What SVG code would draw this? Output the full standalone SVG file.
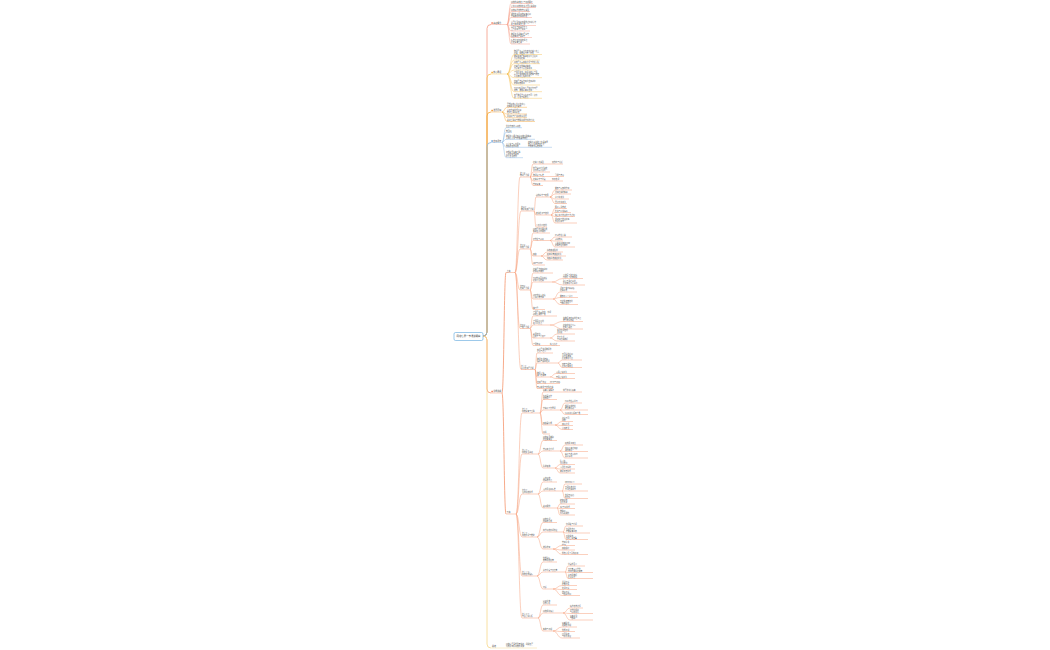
<svg xmlns="http://www.w3.org/2000/svg" width="1050" height="650" viewBox="0 0 1050 650">
<style>
.t{font-family:"Noto Sans CJK SC","Liberation Sans",sans-serif;font-size:1.8px;fill:#555}
.tl{font-family:"Noto Sans CJK SC","Liberation Sans",sans-serif;font-size:2px;fill:#444}
.r{font-family:"Noto Sans CJK SC","Liberation Sans",sans-serif;font-size:2.4px;fill:#333}
path{fill:none}
.a{stroke:#f59a84;stroke-width:.45}
.b{stroke:#f7c052;stroke-width:.45}
.c{stroke:#f5a83a;stroke-width:.45}
.d{stroke:#86b6e3;stroke-width:.45}
.e{stroke:#f5956d;stroke-width:.45}
.f{stroke:#f8d88a;stroke-width:.45}
.m{stroke-width:.8}
</style>
<rect width="1050" height="650" fill="#fff"/>
<g id="connectors">
<path class="a m" d="M483 336Q487 336 487 332V28.5Q487 24.5 491 24.5"/>
<path class="b m" d="M483 336Q487 336 487 332V78Q487 74 491 74"/>
<path class="c m" d="M483 336Q487 336 487 332V116Q487 112 491 112"/>
<path class="d m" d="M483 336Q487 336 487 332V146.5Q487 142.5 491 142.5"/>
<path class="e m" d="M483 336Q487 336 487 340V389Q487 393 491 393"/>
<path class="f m" d="M483 336Q487 336 487 340V644Q487 648 491 648"/>
<path class="a" d="M507 24.5C509 24.5 509 3.5 511 3.5"/>
<path class="a" d="M507 24.5C509 24.5 509 7.5 511 7.5"/>
<path class="a" d="M507 24.5C509 24.5 509 11.5 511 11.5"/>
<path class="a" d="M507 24.5C509 24.5 509 17.5 511 17.5"/>
<path class="a" d="M507 24.5C509 24.5 509 25.5 511 25.5"/>
<path class="a" d="M507 24.5C509 24.5 509 31 511 31"/>
<path class="a" d="M507 24.5C509 24.5 509 37.5 511 37.5"/>
<path class="a" d="M507 24.5C509 24.5 509 44 511 44"/>
<path class="b" d="M507 74C510.5 74 510.5 54.5 514 54.5"/>
<path class="b" d="M507 74C510.5 74 510.5 60 514 60"/>
<path class="b" d="M507 74C510.5 74 510.5 63.7 514 63.7"/>
<path class="b" d="M507 74C510.5 74 510.5 70 514 70"/>
<path class="b" d="M507 74C510.5 74 510.5 77.7 514 77.7"/>
<path class="b" d="M507 74C510.5 74 510.5 85 514 85"/>
<path class="b" d="M507 74C510.5 74 510.5 91.7 514 91.7"/>
<path class="b" d="M507 74C510.5 74 510.5 98.3 514 98.3"/>
<path class="c" d="M502 112C504.5 112 504.5 107.3 507 107.3"/>
<path class="c" d="M502 112C504.5 112 504.5 114 507 114"/>
<path class="c" d="M502 112C504.5 112 504.5 117.8 507 117.8"/>
<path class="c" d="M502 112C504.5 112 504.5 121.5 507 121.5"/>
<path class="d" d="M502 142.5C504 142.5 504 127.7 506 127.7"/>
<path class="d" d="M502 142.5C504 142.5 504 132.3 506 132.3"/>
<path class="d" d="M502 142.5C504 142.5 504 139.3 506 139.3"/>
<path class="d" d="M502 142.5C504 142.5 504 147.3 506 147.3"/>
<path class="d" d="M502 142.5C504 142.5 504 157.7 506 157.7"/>
<path class="d" d="M523 147.3H528"/>
<path class="e m" d="M502 393C504 393 504 272.5 506 272.5"/>
<path class="e m" d="M502 393C504 393 504 514 506 514"/>
<path class="e" d="M515 272.5C517.5 272.5 517.5 177 520 177"/>
<path class="e" d="M515 272.5C518 272.5 518 211 521 211"/>
<path class="e" d="M515 272.5C517.5 272.5 517.5 249 520 249"/>
<path class="e" d="M515 272.5C517.5 272.5 517.5 290 520 290"/>
<path class="e" d="M515 272.5C517.5 272.5 517.5 328.5 520 328.5"/>
<path class="e" d="M515 272.5C518 272.5 518 369.5 521 369.5"/>
<path class="e" d="M530 177C531.5 177 531.5 164 533 164"/>
<path class="e" d="M530 177C531.5 177 531.5 172 533 172"/>
<path class="e" d="M530 177C531.5 177 531.5 176.5 533 176.5"/>
<path class="e" d="M530 177C531.5 177 531.5 181 533 181"/>
<path class="e" d="M530 177C531.5 177 531.5 185.5 533 185.5"/>
<path class="e" d="M548 164H552M550 176.5H555M550 181H552"/>
<path class="e" d="M534 211C535 211 535 197 536 197"/>
<path class="e" d="M534 211C535 211 535 215 536 215"/>
<path class="e" d="M534 211C535 211 535 227 536 227"/>
<path class="e" d="M550 197C552.5 197 552.5 190 555 190"/>
<path class="e" d="M550 197C552.5 197 552.5 194 555 194"/>
<path class="e" d="M550 197C552.5 197 552.5 199 555 199"/>
<path class="e" d="M550 197C552.5 197 552.5 203.5 555 203.5"/>
<path class="e" d="M551 215C553 215 553 208.5 555 208.5"/>
<path class="e" d="M551 215C553 215 553 212.5 555 212.5"/>
<path class="e" d="M551 215C553 215 553 216.5 555 216.5"/>
<path class="e" d="M551 215C553 215 553 223 555 223"/>
<path class="e" d="M530 249C531.5 249 531.5 233 533 233"/>
<path class="e" d="M530 249C531.5 249 531.5 240.5 533 240.5"/>
<path class="e" d="M530 249C531.5 249 531.5 256 533 256"/>
<path class="e" d="M530 249C531.5 249 531.5 265 533 265"/>
<path class="e" d="M550 240.5C552.5 240.5 552.5 237 555 237"/>
<path class="e" d="M550 240.5C552.5 240.5 552.5 241 555 241"/>
<path class="e" d="M550 240.5C552.5 240.5 552.5 247 555 247"/>
<path class="e" d="M541 256C544 256 544 252 547 252"/>
<path class="e" d="M541 256C544 256 544 256 547 256"/>
<path class="e" d="M541 256C544 256 544 260 547 260"/>
<path class="e" d="M530 290C531.5 290 531.5 273 533 273"/>
<path class="e" d="M530 290C531.5 290 531.5 282 533 282"/>
<path class="e" d="M530 290C531.5 290 531.5 299 533 299"/>
<path class="e" d="M530 290C531.5 290 531.5 309.5 533 309.5"/>
<path class="e" d="M552 282C557.5 282 557.5 278.5 563 278.5"/>
<path class="e" d="M552 282C557.5 282 557.5 285 563 285"/>
<path class="e" d="M553 299C556.5 299 556.5 292 560 292"/>
<path class="e" d="M553 299C556.5 299 556.5 297.5 560 297.5"/>
<path class="e" d="M553 299C556.5 299 556.5 304.5 560 304.5"/>
<path class="e" d="M530 328.5C531.5 328.5 531.5 316 533 316"/>
<path class="e" d="M530 328.5C531.5 328.5 531.5 325 533 325"/>
<path class="e" d="M530 328.5C531.5 328.5 531.5 338 533 338"/>
<path class="e" d="M530 328.5C531.5 328.5 531.5 345.5 533 345.5"/>
<path class="e" d="M550 325C556.5 325 556.5 321.5 563 321.5"/>
<path class="e" d="M550 325C556.5 325 556.5 329 563 329"/>
<path class="e" d="M550 338C553.5 338 553.5 334 557 334"/>
<path class="e" d="M550 338C553.5 338 553.5 341 557 341"/>
<path class="e" d="M547 345.5H550"/>
<path class="e" d="M535 369.5C536 369.5 536 353 537 353"/>
<path class="e" d="M535 369.5C536 369.5 536 363 537 363"/>
<path class="e" d="M535 369.5C536 369.5 536 377 537 377"/>
<path class="e" d="M535 369.5C536 369.5 536 383.5 537 383.5"/>
<path class="e" d="M535 369.5C536 369.5 536 388.5 537 388.5"/>
<path class="e" d="M558 363C560 363 560 360 562 360"/>
<path class="e" d="M558 363C560 363 560 367.5 562 367.5"/>
<path class="e" d="M550 377C553 377 553 373.5 556 373.5"/>
<path class="e" d="M550 377C553 377 553 378.5 556 378.5"/>
<path class="e" d="M547 383.5H550"/>
<path class="e" d="M516 514C519 514 519 413 522 413"/>
<path class="e" d="M516 514C519 514 519 454 522 454"/>
<path class="e" d="M516 514C519 514 519 494 522 494"/>
<path class="e" d="M516 514C519 514 519 537 522 537"/>
<path class="e" d="M516 514C519 514 519 576 522 576"/>
<path class="e" d="M516 514C519 514 519 618 522 618"/>
<path class="e" d="M540 413C541.5 413 541.5 392 543 392"/>
<path class="e" d="M540 413C541.5 413 541.5 399.5 543 399.5"/>
<path class="e" d="M540 413C541.5 413 541.5 410 543 410"/>
<path class="e" d="M540 413C541.5 413 541.5 425 543 425"/>
<path class="e" d="M540 413C541.5 413 541.5 434 543 434"/>
<path class="e" d="M560 392H563"/>
<path class="e" d="M560 410C562.5 410 562.5 403 565 403"/>
<path class="e" d="M560 410C562.5 410 562.5 410 565 410"/>
<path class="e" d="M560 410C562.5 410 562.5 414.5 565 414.5"/>
<path class="e" d="M555 425C558.5 425 558.5 421.5 562 421.5"/>
<path class="e" d="M555 425C558.5 425 558.5 425.5 562 425.5"/>
<path class="e" d="M555 425C558.5 425 558.5 429.5 562 429.5"/>
<path class="e" d="M538 454C540.5 454 540.5 440.5 543 440.5"/>
<path class="e" d="M538 454C540.5 454 540.5 451 543 451"/>
<path class="e" d="M538 454C540.5 454 540.5 468 543 468"/>
<path class="e" d="M560 451C562.5 451 562.5 445 565 445"/>
<path class="e" d="M560 451C562.5 451 562.5 451.5 565 451.5"/>
<path class="e" d="M560 451C562.5 451 562.5 458 565 458"/>
<path class="e" d="M555 468C557.5 468 557.5 464.5 560 464.5"/>
<path class="e" d="M555 468C557.5 468 557.5 469 560 469"/>
<path class="e" d="M555 468C557.5 468 557.5 473 560 473"/>
<path class="e" d="M538 494C540.5 494 540.5 482 543 482"/>
<path class="e" d="M538 494C540.5 494 540.5 491 543 491"/>
<path class="e" d="M538 494C540.5 494 540.5 508 543 508"/>
<path class="e" d="M562 491C563.5 491 563.5 484 565 484"/>
<path class="e" d="M562 491C563.5 491 563.5 491 565 491"/>
<path class="e" d="M562 491C563.5 491 563.5 498.5 565 498.5"/>
<path class="e" d="M557 508C558.5 508 558.5 504 560 504"/>
<path class="e" d="M557 508C558.5 508 558.5 508.5 560 508.5"/>
<path class="e" d="M557 508C558.5 508 558.5 515 560 515"/>
<path class="e" d="M537 537C540 537 540 522.5 543 522.5"/>
<path class="e" d="M537 537C540 537 540 532 543 532"/>
<path class="e" d="M537 537C540 537 540 549 543 549"/>
<path class="e" d="M563 532C564.5 532 564.5 526 566 526"/>
<path class="e" d="M563 532C564.5 532 564.5 533 566 533"/>
<path class="e" d="M563 532C564.5 532 564.5 539.5 566 539.5"/>
<path class="e" d="M553 549C557.5 549 557.5 545.5 562 545.5"/>
<path class="e" d="M553 549C557.5 549 557.5 550 562 550"/>
<path class="e" d="M553 549C557.5 549 557.5 554.5 562 554.5"/>
<path class="e" d="M537 576C540 576 540 562 543 562"/>
<path class="e" d="M537 576C540 576 540 572 543 572"/>
<path class="e" d="M537 576C540 576 540 589 543 589"/>
<path class="e" d="M565 572C566.5 572 566.5 566 568 566"/>
<path class="e" d="M565 572C566.5 572 566.5 572.5 568 572.5"/>
<path class="e" d="M565 572C566.5 572 566.5 578.5 568 578.5"/>
<path class="e" d="M553 589C557.5 589 557.5 585.5 562 585.5"/>
<path class="e" d="M553 589C557.5 589 557.5 589.5 562 589.5"/>
<path class="e" d="M553 589C557.5 589 557.5 595.5 562 595.5"/>
<path class="e" d="M538 618C540.5 618 540.5 605 543 605"/>
<path class="e" d="M538 618C540.5 618 540.5 613 543 613"/>
<path class="e" d="M538 618C540.5 618 540.5 631 543 631"/>
<path class="e" d="M563 613C566.5 613 566.5 608 570 608"/>
<path class="e" d="M563 613C566.5 613 566.5 613.5 570 613.5"/>
<path class="e" d="M563 613C566.5 613 566.5 620 570 620"/>
<path class="e" d="M553 631C557.5 631 557.5 627 562 627"/>
<path class="e" d="M553 631C557.5 631 557.5 631.5 562 631.5"/>
<path class="e" d="M553 631C557.5 631 557.5 638 562 638"/>
<path class="f" d="M503 648H506"/>
</g>
<g id="root"><rect x="454" y="332.5" width="29" height="8" rx="1.5" fill="#fff" stroke="#5aa4dc" stroke-width="0.6"/><text class="r" x="468.5" y="337.4" text-anchor="middle">网络七层一节课讲明白</text></g>
<g id="A"><rect x="491.4" y="22.3" width="1.4" height="1.4" rx="0.3" fill="#f26d50"/><text class="tl" x="493.3" y="23.9">基础概念</text><path class="a" d="M491 24.5h16"/></g>
<g id="A1"><text class="t" x="511" y="2.9">网络的基本定义与组成要素</text><path class="a" d="M511 3.5h22"/></g>
<g id="A2"><text class="t" x="511" y="6.9">计算机网络按覆盖范围分类说明</text><path class="a" d="M511 7.5h25"/></g>
<g id="A3"><text class="t" x="511" y="10.9">网络拓扑结构常见类型</text><path class="a" d="M511 11.5h19"/></g>
<g id="A4"><text class="t" x="511" y="14.8">通信协议是网络设备之间<tspan x="511" dy="2.1">交换数据的规则约定</tspan></text><path class="a" d="M511 17.5h21"/></g>
<g id="A5"><text class="t" x="511" y="22.8">分层模型将复杂通信过程划分为<tspan x="511" dy="2.1">若干相对独立层次</tspan></text><path class="a" d="M511 25.5h25"/></g>
<g id="A6"><text class="t" x="511" y="28.3">每层只与相邻层交互<tspan x="511" dy="2.1">上层使用下层服务</tspan></text><path class="a" d="M511 31h19"/></g>
<g id="A7"><text class="t" x="511" y="34.8">数据在发送端逐层封装<tspan x="511" dy="2.1">接收端逐层解封装</tspan></text><path class="a" d="M511 37.5h21"/></g>
<g id="A8"><text class="t" x="511" y="41.3">标准化组织制定规范<tspan x="511" dy="2.1">保证设备互通</tspan></text><path class="a" d="M511 44h19"/></g>
<g id="B"><rect x="491.4" y="71.8" width="1.4" height="1.4" rx="0.3" fill="#f5a623"/><text class="tl" x="493.3" y="73.4">核心原理</text><path class="b" d="M491 74h16"/></g>
<g id="B1"><text class="t" x="514" y="51.8">物理层负责比特流在传输介质上<tspan x="514" dy="2.1">传输，规定接口电气特性</tspan></text><path class="b" d="M514 54.5h28"/></g>
<g id="B2"><text class="t" x="514" y="57.3">数据链路层实现相邻节点之间<tspan x="514" dy="2.1">可靠的帧传输</tspan></text><path class="b" d="M514 60h26"/></g>
<g id="B3"><text class="t" x="514" y="63.1">网络层负责路由选择与地址分配</text><path class="b" d="M514 63.7h26"/></g>
<g id="B4"><text class="t" x="514" y="67.3">传输层提供端到端的<tspan x="514" dy="2.1">可靠或不可靠传输服务</tspan></text><path class="b" d="M514 70h22"/></g>
<g id="B5"><text class="t" x="514" y="72.9">会话层建立、管理和终止会话<tspan x="514" dy="2.1">表示层处理数据格式转换与加密</tspan><tspan x="514" dy="2.1">以及数据压缩等功能</tspan></text><path class="b" d="M514 77.7h28"/></g>
<g id="B6"><text class="t" x="514" y="82.3">应用层直接为用户应用进程<tspan x="514" dy="2.1">提供网络服务</tspan></text><path class="b" d="M514 85h26"/></g>
<g id="B7"><text class="t" x="514" y="89">TCP/IP模型将七层简化为四层<tspan x="514" dy="2.1">结构，更贴近实际应用</tspan></text><path class="b" d="M514 91.7h28"/></g>
<g id="B8"><text class="t" x="514" y="95.6">各层数据单元名称不同：比特、<tspan x="514" dy="2.1">帧、分组与报文段</tspan></text><path class="b" d="M514 98.3h28"/></g>
<g id="C"><rect x="491.4" y="109.8" width="1.4" height="1.4" rx="0.3" fill="#f08c1a"/><text class="tl" x="493.3" y="111.4">发展历程</text><path class="c" d="M491 112h11"/></g>
<g id="C1"><text class="t" x="507" y="104.6">早期网络以主机为中心<tspan x="507" dy="2.1">终端共享主机资源</tspan></text><path class="c" d="M507 107.3h20"/></g>
<g id="C2"><text class="t" x="507" y="111.3">分组交换技术出现<tspan x="507" dy="2.1">推动互联网诞生</tspan></text><path class="c" d="M507 114h20"/></g>
<g id="C3"><text class="t" x="507" y="117.2">局域网与广域网快速发展</text><path class="c" d="M507 117.8h20"/></g>
<g id="C4"><text class="t" x="507" y="120.9">移动互联网与物联网成为新的方向</text><path class="c" d="M507 121.5h28"/></g>
<g id="D"><rect x="491.4" y="140.3" width="1.4" height="1.4" rx="0.3" fill="#4a90d9"/><text class="tl" x="493.3" y="141.9">应用场景</text><path class="d" d="M491 142.5h11"/></g>
<g id="D1"><text class="t" x="506" y="127.1">企业内部办公网络</text><path class="d" d="M506 127.7h16"/></g>
<g id="D2"><text class="t" x="506" y="131.7">校园网</text><path class="d" d="M506 132.3h6"/></g>
<g id="D3"><text class="t" x="506" y="136.6">数据中心通过高速网络互联实现<tspan x="506" dy="2.1">大规模计算与存储资源调度</tspan></text><path class="d" d="M506 139.3h29"/></g>
<g id="D4"><text class="t" x="506" y="144.6">云计算与远程服务<tspan x="506" dy="2.1">依赖稳定的网络</tspan></text><path class="d" d="M506 147.3h17"/></g>
<g id="D4a"><text class="t" x="528" y="142.5">虚拟化平台统一管理资源<tspan x="528" dy="2.1">按需分配并弹性扩展</tspan><tspan x="528" dy="2.1">有效降低运维成本</tspan></text><path class="d" d="M528 147.3h24"/></g>
<g id="D5"><text class="t" x="506" y="152.9">智能家居设备互联<tspan x="506" dy="2.1">远程控制与监测</tspan><tspan x="506" dy="2.1">提升生活便利</tspan></text><path class="d" d="M506 157.7h17"/></g>
<g id="E"><rect x="491.4" y="390.8" width="1.4" height="1.4" rx="0.3" fill="#f0704a"/><text class="tl" x="493.3" y="392.4">详细讲解</text><path class="e" d="M491 393h11"/></g>
<g id="E1"><text class="tl" x="506.5" y="271.9">上篇</text><path class="e" d="M506 272.5h9"/></g>
<g id="E2"><text class="tl" x="506.5" y="513.4">下篇</text><path class="e" d="M506 514h10"/></g>
<g id="E1a"><text class="t" x="520" y="174.3">第一节<tspan x="520" dy="2.1">物理层详解</tspan></text><path class="e" d="M520 177h10"/></g>
<g id="E1a1"><text class="t" x="533" y="163.4">传输介质类型</text><path class="e" d="M533 164h15"/></g>
<g id="E1a1s"><text class="t" x="552" y="163.4">双绞线与光纤</text><path class="e" d="M552 164h11"/></g>
<g id="E1a2"><text class="t" x="533" y="169.3">信号编码方式决定<tspan x="533" dy="2.1">比特的表示形式</tspan></text><path class="e" d="M533 172h17"/></g>
<g id="E1a3"><text class="t" x="533" y="175.9">物理接口标准</text><path class="e" d="M533 176.5h17"/></g>
<g id="E1a3s"><text class="t" x="555" y="175.9">引脚与电平</text><path class="e" d="M555 176.5h9"/></g>
<g id="E1a4"><text class="t" x="533" y="180.4">传输速率与带宽</text><path class="e" d="M533 181h17"/></g>
<g id="E1a4s"><text class="t" x="552" y="180.4">香农定理</text><path class="e" d="M552 181h11"/></g>
<g id="E1a5"><text class="t" x="533" y="184.9">常用设备</text><path class="e" d="M533 185.5h10"/></g>
<g id="E1b"><text class="t" x="521" y="208.3">第二节<tspan x="521" dy="2.1">数据链路层详解</tspan></text><path class="e" d="M521 211h13"/></g>
<g id="E1b1"><text class="t" x="536" y="196.4">帧的封装与定界</text><path class="e" d="M536 197h14"/></g>
<g id="E1b1a"><text class="t" x="555" y="189.4">首部与尾部的作用</text><path class="e" d="M555 190h17"/></g>
<g id="E1b1b"><text class="t" x="555" y="193.4">透明传输的实现</text><path class="e" d="M555 194h16"/></g>
<g id="E1b1c"><text class="t" x="555" y="198.4">字节填充法</text><path class="e" d="M555 199h14"/></g>
<g id="E1b1d"><text class="t" x="555" y="202.9">零比特填充法</text><path class="e" d="M555 203.5h12"/></g>
<g id="E1b2"><text class="t" x="536" y="214.4">差错检测与控制</text><path class="e" d="M536 215h15"/></g>
<g id="E1b2a"><text class="t" x="555" y="207.9">循环冗余校验</text><path class="e" d="M555 208.5h12"/></g>
<g id="E1b2b"><text class="t" x="555" y="211.9">检错与纠错编码</text><path class="e" d="M555 212.5h16"/></g>
<g id="E1b2c"><text class="t" x="555" y="215.9">停止等待协议的工作过程</text><path class="e" d="M555 216.5h20"/></g>
<g id="E1b2d"><text class="t" x="555" y="220.3">滑动窗口协议提高<tspan x="555" dy="2.1">信道利用率</tspan></text><path class="e" d="M555 223h22"/></g>
<g id="E1b3"><text class="t" x="536" y="226.4">介质访问控制</text><path class="e" d="M536 227h11"/></g>
<g id="E1c"><text class="t" x="520" y="246.3">第三节<tspan x="520" dy="2.1">网络层详解</tspan></text><path class="e" d="M520 249h10"/></g>
<g id="E1c1"><text class="t" x="533" y="230.3">网络层的主要功能<tspan x="533" dy="2.1">实现主机间通信</tspan></text><path class="e" d="M533 233h17"/></g>
<g id="E1c2"><text class="t" x="533" y="239.9">IP地址与子网</text><path class="e" d="M533 240.5h17"/></g>
<g id="E1c2a"><text class="t" x="555" y="236.4">IPv4地址分类</text><path class="e" d="M555 237h17"/></g>
<g id="E1c2b"><text class="t" x="555" y="240.4">子网掩码</text><path class="e" d="M555 241h8"/></g>
<g id="E1c2c"><text class="t" x="555" y="244.3">无类域间路由CIDR<tspan x="555" dy="2.1">提高地址利用率</tspan></text><path class="e" d="M555 247h20"/></g>
<g id="E1c3"><text class="t" x="533" y="255.4">路由</text><path class="e" d="M533 256h8"/></g>
<g id="E1c3a"><text class="t" x="547" y="251.4">静态路由配置</text><path class="e" d="M547 252h16"/></g>
<g id="E1c3b"><text class="t" x="547" y="255.4">距离向量路由算法</text><path class="e" d="M547 256h19"/></g>
<g id="E1c3c"><text class="t" x="547" y="259.4">链路状态路由算法</text><path class="e" d="M547 260h16"/></g>
<g id="E1c4"><text class="t" x="533" y="264.4">ARP与ICMP</text><path class="e" d="M533 265h12"/></g>
<g id="E1d"><text class="t" x="520" y="287.3">第四节<tspan x="520" dy="2.1">传输层详解</tspan></text><path class="e" d="M520 290h10"/></g>
<g id="E1d1"><text class="t" x="533" y="270.3">传输层为应用进程<tspan x="533" dy="2.1">提供逻辑通信</tspan></text><path class="e" d="M533 273h20"/></g>
<g id="E1d2"><text class="t" x="533" y="279.3">TCP协议面向连接<tspan x="533" dy="2.1">提供可靠传输</tspan></text><path class="e" d="M533 282h19"/></g>
<g id="E1d2a"><text class="t" x="563" y="275.8">三次握手建立连接<tspan x="563" dy="2.1">四次挥手释放连接</tspan></text><path class="e" d="M563 278.5h20"/></g>
<g id="E1d2b"><text class="t" x="563" y="282.3">确认与重传机制<tspan x="563" dy="2.1">保证数据可靠到达</tspan></text><path class="e" d="M563 285h22"/></g>
<g id="E1d3"><text class="t" x="533" y="296.3">UDP协议无连接<tspan x="533" dy="2.1">开销小效率高</tspan></text><path class="e" d="M533 299h20"/></g>
<g id="E1d3a"><text class="t" x="560" y="289.3">适用于实时音视频<tspan x="560" dy="2.1">传输场景</tspan></text><path class="e" d="M560 292h17"/></g>
<g id="E1d3b"><text class="t" x="560" y="296.9">首部仅八个字节</text><path class="e" d="M560 297.5h18"/></g>
<g id="E1d3c"><text class="t" x="560" y="301.8">不提供流量控制<tspan x="560" dy="2.1">与拥塞控制</tspan></text><path class="e" d="M560 304.5h18"/></g>
<g id="E1d4"><text class="t" x="533" y="308.9">端口号</text><path class="e" d="M533 309.5h12"/></g>
<g id="E1e"><text class="t" x="520" y="325.8">第五节<tspan x="520" dy="2.1">会话层详解</tspan></text><path class="e" d="M520 328.5h10"/></g>
<g id="E1e1"><text class="t" x="533" y="313.3">会话层负责建立、管理<tspan x="533" dy="2.1">和终止通信会话</tspan></text><path class="e" d="M533 316h24"/></g>
<g id="E1e2"><text class="t" x="533" y="322.3">会话同步机制<tspan x="533" dy="2.1">插入同步点</tspan></text><path class="e" d="M533 325h17"/></g>
<g id="E1e2a"><text class="t" x="563" y="318.8">在数据流中设置检查点<tspan x="563" dy="2.1">便于故障恢复</tspan></text><path class="e" d="M563 321.5h20"/></g>
<g id="E1e2b"><text class="t" x="563" y="326.3">传输中断后可从<tspan x="563" dy="2.1">检查点继续</tspan></text><path class="e" d="M563 329h20"/></g>
<g id="E1e3"><text class="t" x="533" y="335.3">对话控制<tspan x="533" dy="2.1">全双工与半双工</tspan></text><path class="e" d="M533 338h17"/></g>
<g id="E1e3a"><text class="t" x="557" y="331.3">令牌管理控制<tspan x="557" dy="2.1">发送权</tspan></text><path class="e" d="M557 334h18"/></g>
<g id="E1e3b"><text class="t" x="557" y="338.3">单工方式<tspan x="557" dy="2.1">单向传输数据</tspan></text><path class="e" d="M557 341h18"/></g>
<g id="E1e4"><text class="t" x="533" y="344.9">会话恢复</text><path class="e" d="M533 345.5h14"/></g>
<g id="E1e4s"><text class="t" x="550" y="344.9">断点续传</text><path class="e" d="M550 345.5h10"/></g>
<g id="E1f"><text class="t" x="521" y="366.8">第六节<tspan x="521" dy="2.1">表示应用层详解</tspan></text><path class="e" d="M521 369.5h14"/></g>
<g id="E1f1"><text class="t" x="537" y="350.3">表示层处理数据的<tspan x="537" dy="2.1">语法与语义</tspan></text><path class="e" d="M537 353h16"/></g>
<g id="E1f2"><text class="t" x="537" y="360.3">数据格式转换<tspan x="537" dy="2.1">编码与解码处理</tspan></text><path class="e" d="M537 363h21"/></g>
<g id="E1f2a"><text class="t" x="562" y="355.2">不同系统之间<tspan x="562" dy="2.1">字符集转换</tspan><tspan x="562" dy="2.1">保证数据可读</tspan></text><path class="e" d="M562 360h20"/></g>
<g id="E1f2b"><text class="t" x="562" y="364.8">加密与解密<tspan x="562" dy="2.1">保障传输安全</tspan></text><path class="e" d="M562 367.5h20"/></g>
<g id="E1f3"><text class="t" x="537" y="374.3">数据压缩<tspan x="537" dy="2.1">减少传输量</tspan></text><path class="e" d="M537 377h13"/></g>
<g id="E1f3a"><text class="t" x="556" y="372.9">无损压缩算法</text><path class="e" d="M556 373.5h19"/></g>
<g id="E1f3b"><text class="t" x="556" y="377.9">有损压缩算法</text><path class="e" d="M556 378.5h19"/></g>
<g id="E1f4"><text class="t" x="537" y="382.9">应用层协议</text><path class="e" d="M537 383.5h10"/></g>
<g id="E1f4s"><text class="t" x="550" y="382.9">HTTP与DNS</text><path class="e" d="M550 383.5h10"/></g>
<g id="E1f5"><text class="t" x="537" y="387.9">电子邮件与文件传输</text><path class="e" d="M537 388.5h16"/></g>
<g id="E2a"><text class="t" x="522" y="410.3">第七节<tspan x="522" dy="2.1">网络设备与互联</tspan></text><path class="e" d="M522 413h18"/></g>
<g id="E2a1"><text class="t" x="543" y="391.4">设备分类概述</text><path class="e" d="M543 392h17"/></g>
<g id="E2a1s"><text class="t" x="563" y="391.4">按层次划分设备</text><path class="e" d="M563 392h19"/></g>
<g id="E2a2"><text class="t" x="543" y="396.8">集线器工作<tspan x="543" dy="2.1">在物理层</tspan></text><path class="e" d="M543 399.5h14"/></g>
<g id="E2a3"><text class="t" x="543" y="409.4">交换机工作原理</text><path class="e" d="M543 410h17"/></g>
<g id="E2a3a"><text class="t" x="565" y="402.4">MAC地址表学习</text><path class="e" d="M565 403h17"/></g>
<g id="E2a3b"><text class="t" x="565" y="407.3">根据目的地址<tspan x="565" dy="2.1">转发数据帧</tspan></text><path class="e" d="M565 410h23"/></g>
<g id="E2a3c"><text class="t" x="565" y="413.9">VLAN划分隔离广播</text><path class="e" d="M565 414.5h23"/></g>
<g id="E2a4"><text class="t" x="543" y="424.4">路由器功能</text><path class="e" d="M543 425h12"/></g>
<g id="E2a4a"><text class="t" x="562" y="418.8">连接不同<tspan x="562" dy="2.1">网络</tspan></text><path class="e" d="M562 421.5h11"/></g>
<g id="E2a4b"><text class="t" x="562" y="424.9">路径选择</text><path class="e" d="M562 425.5h11"/></g>
<g id="E2a4c"><text class="t" x="562" y="428.9">分组转发</text><path class="e" d="M562 429.5h11"/></g>
<g id="E2a5"><text class="t" x="543" y="433.4">网关</text><path class="e" d="M543 434h7"/></g>
<g id="E2b"><text class="t" x="522" y="451.3">第八节<tspan x="522" dy="2.1">网络安全基础</tspan></text><path class="e" d="M522 454h16"/></g>
<g id="E2b1"><text class="t" x="543" y="437.8">网络安全威胁<tspan x="543" dy="2.1">的主要类型</tspan></text><path class="e" d="M543 440.5h14"/></g>
<g id="E2b2"><text class="t" x="543" y="450.4">常见攻击方式</text><path class="e" d="M543 451h17"/></g>
<g id="E2b2a"><text class="t" x="565" y="444.4">拒绝服务攻击</text><path class="e" d="M565 445h18"/></g>
<g id="E2b2b"><text class="t" x="565" y="448.8">中间人攻击窃取<tspan x="565" dy="2.1">通信数据</tspan></text><path class="e" d="M565 451.5h23"/></g>
<g id="E2b2c"><text class="t" x="565" y="455.3">病毒与木马程序<tspan x="565" dy="2.1">破坏系统</tspan></text><path class="e" d="M565 458h23"/></g>
<g id="E2b3"><text class="t" x="543" y="467.4">防护措施</text><path class="e" d="M543 468h12"/></g>
<g id="E2b3a"><text class="t" x="560" y="461.8">防火墙<tspan x="560" dy="2.1">访问控制</tspan></text><path class="e" d="M560 464.5h15"/></g>
<g id="E2b3b"><text class="t" x="560" y="468.4">入侵检测系统</text><path class="e" d="M560 469h15"/></g>
<g id="E2b3c"><text class="t" x="560" y="472.4">数据加密技术</text><path class="e" d="M560 473h15"/></g>
<g id="E2c"><text class="t" x="522" y="491.3">第九节<tspan x="522" dy="2.1">无线网络技术</tspan></text><path class="e" d="M522 494h16"/></g>
<g id="E2c1"><text class="t" x="543" y="479.3">无线网络<tspan x="543" dy="2.1">的基本特点</tspan></text><path class="e" d="M543 482h14"/></g>
<g id="E2c2"><text class="t" x="543" y="490.4">无线局域网标准</text><path class="e" d="M543 491h19"/></g>
<g id="E2c2a"><text class="t" x="565" y="483.4">IEEE 802.11</text><path class="e" d="M565 484h17"/></g>
<g id="E2c2b"><text class="t" x="565" y="488.3">不同版本支持<tspan x="565" dy="2.1">不同传输速率</tspan></text><path class="e" d="M565 491h23"/></g>
<g id="E2c2c"><text class="t" x="565" y="495.8">信道与频段<tspan x="565" dy="2.1">的选择</tspan></text><path class="e" d="M565 498.5h23"/></g>
<g id="E2c3"><text class="t" x="543" y="507.4">移动通信</text><path class="e" d="M543 508h14"/></g>
<g id="E2c3a"><text class="t" x="560" y="501.3">蜂窝网络<tspan x="560" dy="2.1">发展演进</tspan></text><path class="e" d="M560 504h15"/></g>
<g id="E2c3b"><text class="t" x="560" y="507.9">4G与5G技术</text><path class="e" d="M560 508.5h15"/></g>
<g id="E2c3c"><text class="t" x="560" y="512.3">物联网<tspan x="560" dy="2.1">低功耗通信</tspan></text><path class="e" d="M560 515h15"/></g>
<g id="E2d"><text class="t" x="522" y="534.3">第十节<tspan x="522" dy="2.1">网络管理与维护</tspan></text><path class="e" d="M522 537h15"/></g>
<g id="E2d1"><text class="t" x="543" y="519.8">网络管理<tspan x="543" dy="2.1">的基本功能</tspan></text><path class="e" d="M543 522.5h14"/></g>
<g id="E2d2"><text class="t" x="543" y="531.4">简单网络管理协议</text><path class="e" d="M543 532h20"/></g>
<g id="E2d2a"><text class="t" x="566" y="525.4">管理站与代理</text><path class="e" d="M566 526h17"/></g>
<g id="E2d2b"><text class="t" x="566" y="530.3">管理信息库<tspan x="566" dy="2.1">存储设备状态</tspan></text><path class="e" d="M566 533h24"/></g>
<g id="E2d2c"><text class="t" x="566" y="536.8">陷阱消息<tspan x="566" dy="2.1">主动上报告警</tspan></text><path class="e" d="M566 539.5h22"/></g>
<g id="E2d3"><text class="t" x="543" y="548.4">故障排查</text><path class="e" d="M543 549h10"/></g>
<g id="E2d3a"><text class="t" x="562" y="542.8">常用命令<tspan x="562" dy="2.1">ping</tspan></text><path class="e" d="M562 545.5h13"/></g>
<g id="E2d3b"><text class="t" x="562" y="549.4">路由跟踪</text><path class="e" d="M562 550h13"/></g>
<g id="E2d3c"><text class="t" x="562" y="553.9">抓包分析工具的使用</text><path class="e" d="M562 554.5h26"/></g>
<g id="E2e"><text class="t" x="522" y="573.3">第十一节<tspan x="522" dy="2.1">网络性能指标</tspan></text><path class="e" d="M522 576h15"/></g>
<g id="E2e1"><text class="t" x="543" y="559.3">性能指标<tspan x="543" dy="2.1">衡量网络质量</tspan></text><path class="e" d="M543 562h14"/></g>
<g id="E2e2"><text class="t" x="543" y="571.4">速率带宽与吞吐量</text><path class="e" d="M543 572h22"/></g>
<g id="E2e2a"><text class="t" x="568" y="565.4">带宽的含义</text><path class="e" d="M568 566h17"/></g>
<g id="E2e2b"><text class="t" x="568" y="569.8">吞吐量表示单位<tspan x="568" dy="2.1">时间内实际传输量</tspan></text><path class="e" d="M568 572.5h25"/></g>
<g id="E2e2c"><text class="t" x="568" y="575.8">速率即数据<tspan x="568" dy="2.1">传送速度</tspan></text><path class="e" d="M568 578.5h25"/></g>
<g id="E2e3"><text class="t" x="543" y="588.4">时延</text><path class="e" d="M543 589h10"/></g>
<g id="E2e3a"><text class="t" x="562" y="582.8">发送时延<tspan x="562" dy="2.1">传播时延</tspan></text><path class="e" d="M562 585.5h15"/></g>
<g id="E2e3b"><text class="t" x="562" y="588.9">处理时延</text><path class="e" d="M562 589.5h15"/></g>
<g id="E2e3c"><text class="t" x="562" y="592.8">排队时延<tspan x="562" dy="2.1">与往返时间</tspan></text><path class="e" d="M562 595.5h18"/></g>
<g id="E2f"><text class="t" x="522" y="615.3">第十二节<tspan x="522" dy="2.1">综合案例分析</tspan></text><path class="e" d="M522 618h16"/></g>
<g id="E2f1"><text class="t" x="543" y="602.3">案例背景<tspan x="543" dy="2.1">需求分析</tspan></text><path class="e" d="M543 605h14"/></g>
<g id="E2f2"><text class="t" x="543" y="612.4">网络规划设计</text><path class="e" d="M543 613h20"/></g>
<g id="E2f2a"><text class="t" x="570" y="607.4">拓扑结构选择</text><path class="e" d="M570 608h13"/></g>
<g id="E2f2b"><text class="t" x="570" y="610.8">IP地址规划<tspan x="570" dy="2.1">与子网划分</tspan></text><path class="e" d="M570 613.5h23"/></g>
<g id="E2f2c"><text class="t" x="570" y="617.3">设备选型<tspan x="570" dy="2.1">与部署</tspan></text><path class="e" d="M570 620h23"/></g>
<g id="E2f3"><text class="t" x="543" y="630.4">实施与测试</text><path class="e" d="M543 631h10"/></g>
<g id="E2f3a"><text class="t" x="562" y="624.3">设备配置<tspan x="562" dy="2.1">连通性测试</tspan></text><path class="e" d="M562 627h15"/></g>
<g id="E2f3b"><text class="t" x="562" y="630.9">性能测试</text><path class="e" d="M562 631.5h13"/></g>
<g id="E2f3c"><text class="t" x="562" y="635.3">问题总结<tspan x="562" dy="2.1">与优化建议</tspan></text><path class="e" d="M562 638h18"/></g>
<g id="F"><text class="tl" x="492" y="647.3">总结</text><path class="f" d="M491 648h12"/></g>
<g id="F1"><text class="t" x="506" y="645.3">网络分层思想贯穿始终，理解各层<tspan x="506" dy="2.1">功能是掌握网络的关键</tspan></text><path class="f" d="M506 648h31"/></g>
</svg>
